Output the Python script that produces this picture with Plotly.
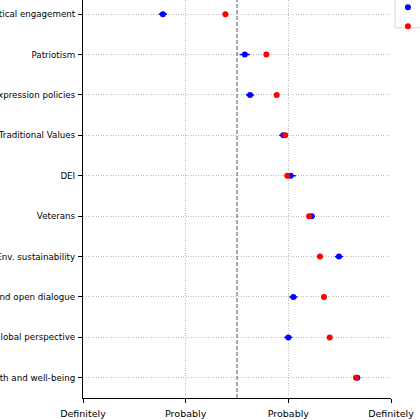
import plotly.graph_objects as go

categories = [
    "Political engagement",
    "Patriotism",
    "Free expression policies",
    "Traditional Values",
    "DEI",
    "Veterans",
    "Env. sustainability",
    "Free speech and open dialogue",
    "Global perspective",
    "Mental health and well-being",
]
blue_values = [1.778, 2.576, 2.627, 2.951, 3.023, 3.228, 3.493, 3.049, 3.000, 3.671]
blue_errors = [0.04, 0.05, 0.04, 0.04, 0.05, 0.03, 0.04, 0.04, 0.04, 0.03]
red_values = [2.387, 2.786, 2.887, 2.970, 2.990, 3.202, 3.308, 3.347, 3.403, 3.659]
red_errors = [0.02, 0.02, 0.02, 0.02, 0.02, 0.02, 0.02, 0.02, 0.02, 0.02]
series_names = ["Democrat", "Republican"]
x_tick_values = [1, 2, 3, 4]
x_tick_labels = ["Definitely<br>should not", "Probably<br>should not",
                 "Probably<br>should", "Definitely<br>should"]
midpoint = 2.5

ypos = list(range(len(categories)))

fig = go.Figure()
fig.add_trace(go.Scatter(
    x=blue_values, y=ypos, mode="markers", name=series_names[0],
    marker=dict(color="#0000ff", size=6),
    error_x=dict(type="data", array=blue_errors, color="#0000ff", thickness=1.5, width=0),
))
fig.add_trace(go.Scatter(
    x=red_values, y=ypos, mode="markers", name=series_names[1],
    marker=dict(color="#ff0000", size=6),
    error_x=dict(type="data", array=red_errors, color="#ff0000", thickness=1.5, width=0),
))

fig.add_shape(type="line", xref="x", yref="paper", x0=midpoint, x1=midpoint, y0=0, y1=1,
              line=dict(color="#7a7a7a", width=1.3, dash="4px,2px"))

# legend frame
fig.add_shape(type="rect", xref="paper", yref="paper", x0=1.013, x1=1.3, y0=0.93, y1=1.02,
              line=dict(color="#d8d8d8", width=1), fillcolor="rgba(0,0,0,0)", layer="above")

xfont = dict(family="DejaVu Sans", size=9.5, color="black")
yfont = dict(family="DejaVu Sans", size=8.7, color="black")
fig.update_layout(
    width=420, height=420,
    margin=dict(l=83, r=29, t=0, b=22, autoexpand=False),
    paper_bgcolor="white", plot_bgcolor="white",
    font=xfont,
    showlegend=True,
    legend=dict(x=0.99, y=1.018, xanchor="left", yanchor="top",
                borderwidth=0, bgcolor="rgba(0,0,0,0)",
                font=xfont),
    xaxis=dict(range=[1, 4], tickvals=x_tick_values, ticktext=x_tick_labels,
               showgrid=True, gridcolor="#c0c0c0", griddash="1px,1.5px", gridwidth=1,
               showline=True, linecolor="black", linewidth=1.2,
               ticks="outside", ticklen=4, tickcolor="black", zeroline=False,
               automargin=False, tickfont=xfont, ticklabelstandoff=2),
    yaxis=dict(range=[9.5, -0.35], tickvals=ypos, ticktext=categories,
               showgrid=True, gridcolor="#c0c0c0", griddash="1px,1.5px", gridwidth=1,
               showline=True, linecolor="black", linewidth=1.2,
               ticks="outside", ticklen=4, tickcolor="black", zeroline=False,
               automargin=False, tickfont=yfont, ticklabelstandoff=1),
)

fig.write_html("out.html", config={"displayModeBar": False},
               post_script="document.body.style.margin='0';document.body.style.overflow='hidden';")
